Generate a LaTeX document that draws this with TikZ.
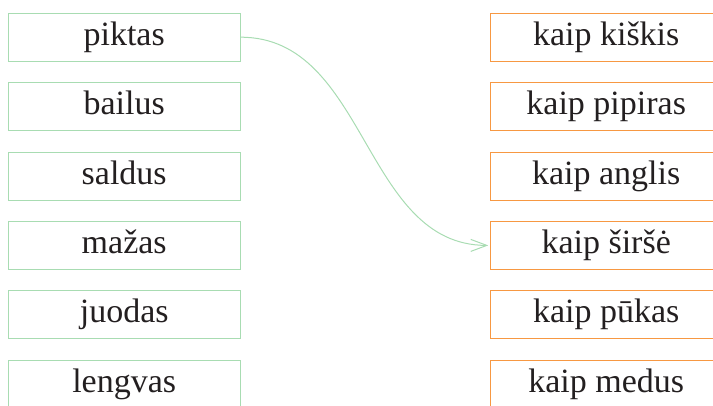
\documentclass[tikz,border=0pt]{standalone}
\usepackage{fontspec}
\setmainfont{Liberation Serif}
\usepackage{tikz}
\usetikzlibrary{arrows.meta}

\definecolor{boxgreen}{RGB}{168,220,178}
\definecolor{boxorange}{RGB}{247,152,66}
\definecolor{ink}{RGB}{35,31,32}

\begin{document}
\begin{tikzpicture}[x=1pt,y=1pt,
	word/.style={draw,line width=1pt,minimum width=232pt,minimum height=48pt,inner sep=0pt,text height=24pt,text depth=8pt,font=\fontsize{34}{40}\selectfont,text=ink},
	left word/.style={word,draw=boxgreen},
	right word/.style={word,draw=boxorange}]
	\useasboundingbox (0,0) rectangle (713,405);
	\clip (0,0) rectangle (713,405);
	\matrix[row sep=20.4pt,column sep=249pt,anchor=north west,inner sep=0pt] at (7.5,392.5) {
		\node[left word] (l1) {piktas}; & \node[right word] (r1) {kaip kiškis}; \\
		\node[left word] (l2) {bailus}; & \node[right word] (r2) {kaip pipiras}; \\
		\node[left word] (l3) {saldus}; & \node[right word] (r3) {kaip anglis}; \\
		\node[left word] (l4) {mažas}; & \node[right word] (r4) {kaip širšė}; \\
		\node[left word] (l5) {juodas}; & \node[right word] (r5) {kaip pūkas}; \\
		\node[left word] (l6) {lengvas}; & \node[right word] (r6) {kaip medus}; \\
	};
	\draw[boxgreen,line width=1pt,shorten >=1.5pt,-{Straight Barb[length=16pt,width=12pt]}] (l1.east) to[out=0,in=180] (r4.west);
\end{tikzpicture}
\end{document}
